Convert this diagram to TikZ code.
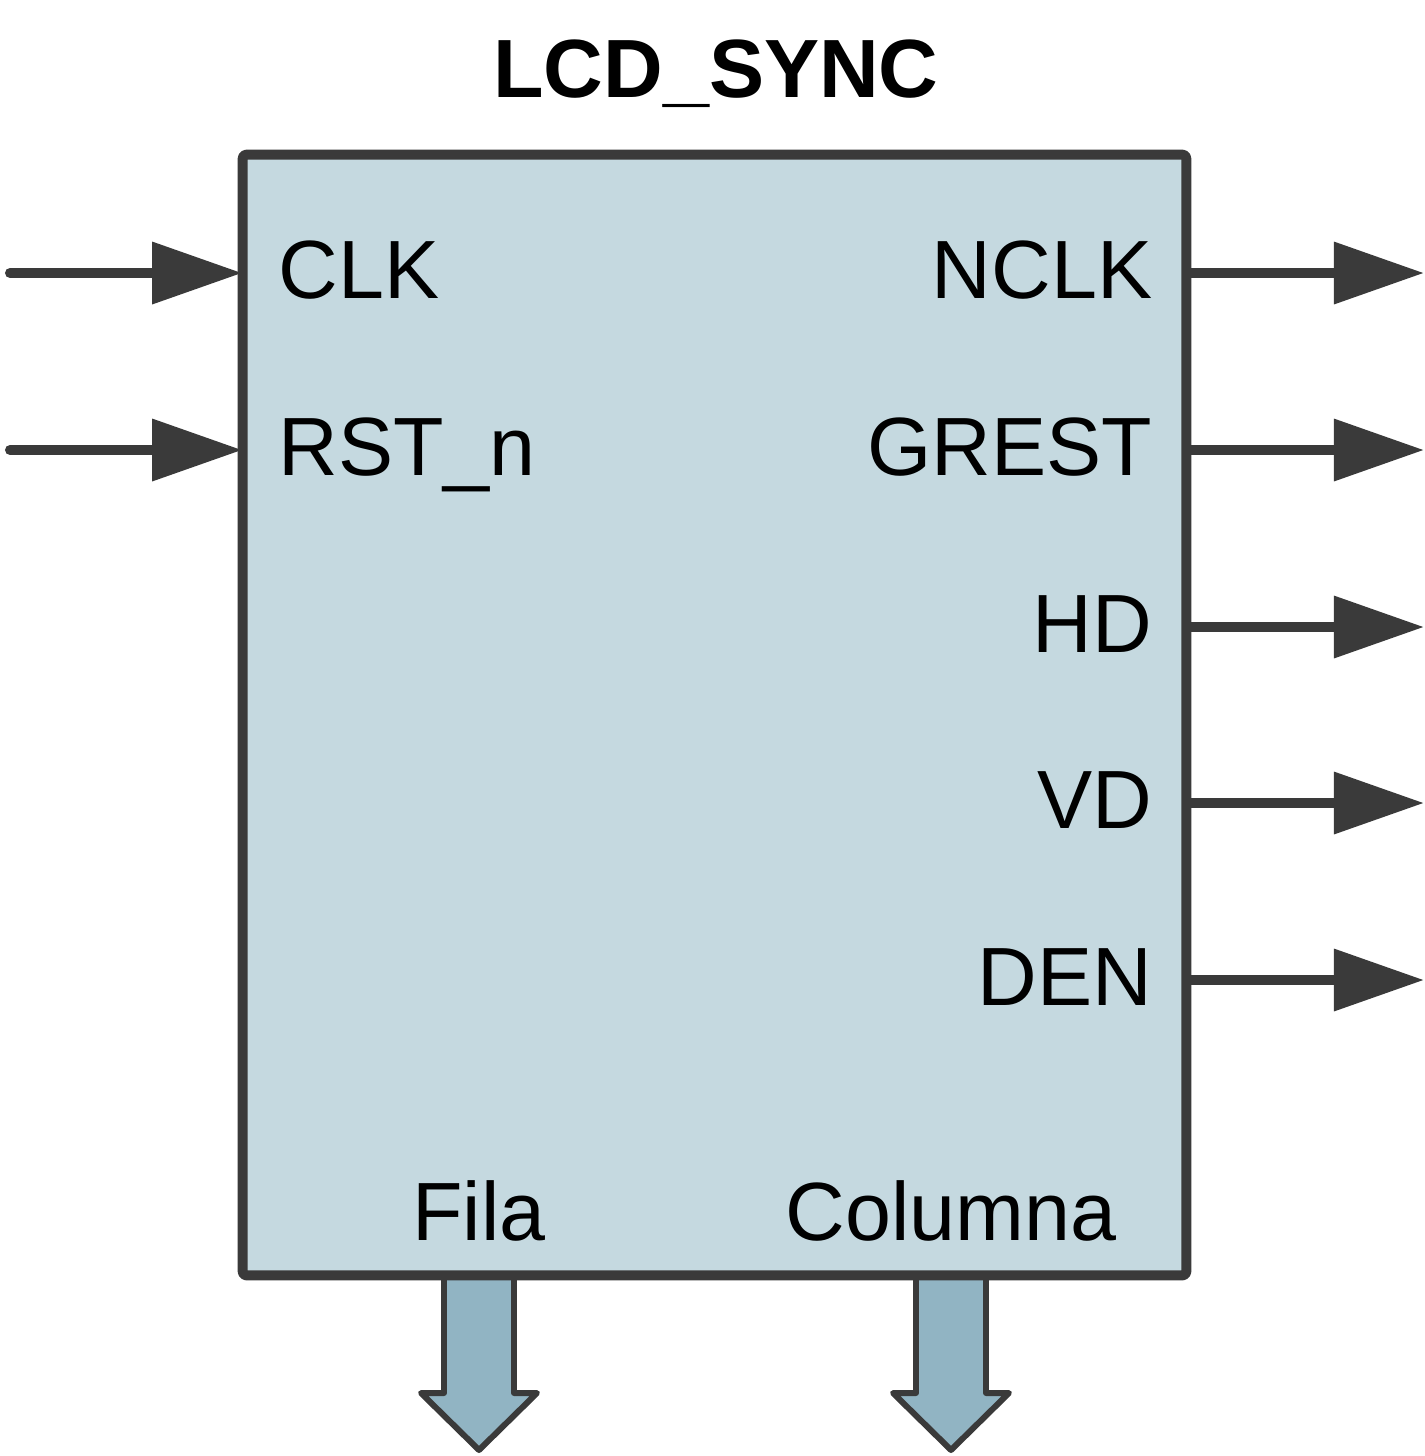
\documentclass[tikz,border=0pt]{standalone}
\usepackage{fontspec}
\setmainfont{Liberation Sans}
\usetikzlibrary{arrows.meta}
\definecolor{dk}{HTML}{3A3A3A}
\definecolor{boxfill}{HTML}{C5D9E0}
\definecolor{busfill}{HTML}{91B4C3}
\tikzset{
  blockbox/.style={draw=dk, fill=boxfill, line width=2.85pt, line join=round, rounded corners=1pt,
    minimum width=9.43cm, minimum height=11.2cm, inner sep=0pt},
  sig/.style={draw=dk, line width=2.85pt, line cap=round, -{Triangle[length=0.9cm,width=0.6cm]}},
  lbl/.style={inner sep=0pt, font=\fontsize{23.5}{28}\selectfont},
  ttl/.style={inner sep=0pt, font=\fontsize{23.5}{28}\selectfont\bfseries},
  busarrow/.style={draw=dk, fill=busfill, line width=1.7pt, line join=round}
}
\begin{document}
\begin{tikzpicture}[x=0.01cm,y=-0.01cm]
\useasboundingbox (0,0) rectangle (1425,1456);
% bus arrows (drawn first, box covers their tops)
\foreach \cx/\nm in {479/fila, 951/col}{
  \draw[busarrow] (\cx-35,1272) -- (\cx-35,1393) -- (\cx-58,1393) -- (\cx,1450)
     -- (\cx+58,1393) -- (\cx+35,1393) -- (\cx+35,1272) -- cycle;
}
\node[blockbox] (blk) at (714.5,715) {};
\node[ttl, anchor=base] (title) at (716,97) {LCD\_SYNC};
% input labels
\node[lbl, anchor=base west] (clk) at (278,298) {CLK};
\node[lbl, anchor=base west] (rst) at (278,475) {RST\_n};
% output labels
\node[lbl, anchor=base east] (nclk) at (1153,298) {NCLK};
\node[lbl, anchor=base east] (grest) at (1153,475) {GREST};
\node[lbl, anchor=base east] (hd) at (1153,652) {HD};
\node[lbl, anchor=base east] (vd) at (1153,828) {VD};
\node[lbl, anchor=base east] (den) at (1153,1005) {DEN};
% bus labels
\node[lbl, anchor=base] (fila) at (479,1240) {Fila};
\node[lbl, anchor=base] (colu) at (951,1240) {Columna};
% coordinates for connectors
\coordinate (iclk) at (10,273);
\coordinate (irst) at (10,450);
\coordinate (inL) at ([xshift=0.045cm]blk.west);
\coordinate (onclk) at (1424,273);
\coordinate (ogrest) at (1424,450);
\coordinate (ohd) at (1424,627);
\coordinate (ovd) at (1424,803);
\coordinate (oden) at (1424,980);
\draw[sig] (iclk) -- (inL |- iclk);
\draw[sig] (irst) -- (inL |- irst);
\foreach \o in {onclk,ogrest,ohd,ovd,oden}{
  \draw[sig, line cap=butt] (blk.east |- \o) -- (\o);
}
\end{tikzpicture}
\end{document}
